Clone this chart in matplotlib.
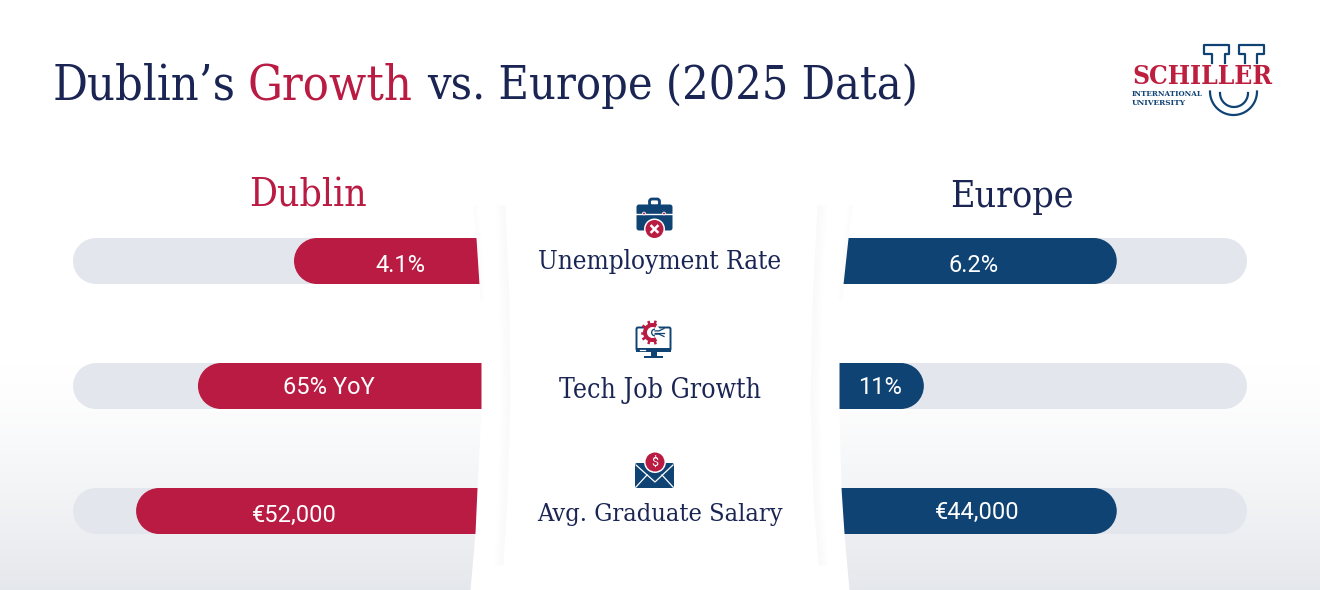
import matplotlib
matplotlib.use("Agg")
import matplotlib.pyplot as plt
import numpy as np
from matplotlib.patches import Circle, FancyBboxPatch, Rectangle, Wedge

metrics = ["Unemployment Rate", "Tech Job Growth", "Avg. Graduate Salary"]
dublin_labels = ["4.1%", "65% YoY", "€52,000"]
europe_labels = ["6.2%", "11%", "€44,000"]
# share of the grey track that is filled
dublin_fill = [0.457, 0.693, 0.845]
europe_fill = [0.68, 0.206, 0.68]

RED = "#b91b42"
BLUE = "#0f4373"
NAVY = "#1a2554"
TRACK = "#e3e7ed"
SLAB = "DejaVu Serif"

# layout, in pixels of the 1320x590 picture
bar_top = [238, 363, 488]
bar_h = 46
track_l, track_r = 73, 1247
track_w = 407
dublin_text_x = [400, 329, 294]
dublin_text_y = [265, 388, 515]
europe_text_x = [974, 880, 977]
europe_text_y = [265, 388, 512]
metric_y = [261, 390, 514]
metric_w = [244, 201, 246]

fig = plt.figure(figsize=(13.2, 5.9), dpi=100)
ax = fig.add_axes([0, 0, 1, 1])
ax.axis("off")

# background fades to a cool grey towards the bottom
ys = np.linspace(0, 1, 590)
fade = np.clip((ys - 0.62) / 0.38, 0, 1) ** 1.3
low = np.array([0.898, 0.908, 0.925])
bg = (1 - fade[:, None]) + fade[:, None] * low
ax.imshow(bg[:, None, :], extent=(0, 1320, 590, 0), aspect="auto", zorder=0)
ax.set_xlim(0, 1320)
ax.set_ylim(590, 0)


def fit_text(x, y, s, width, size=20, ha="left", **kw):
    # scale the font until the string is as wide as in the reference
    t = ax.text(x, y, s, fontsize=size, ha=ha, va="center", stretch="condensed", **kw)
    r = fig.canvas.get_renderer()
    t.set_fontsize(size * width / t.get_window_extent(r).width)
    return t


def pill(x0, x1, top, color, z):
    ax.add_patch(Rectangle((x0 + 23, top), x1 - x0 - 46, bar_h, fc=color, ec="none", zorder=z))
    ax.add_patch(Circle((x0 + 23, top + 23), 23, fc=color, ec="none", zorder=z))
    ax.add_patch(Circle((x1 - 23, top + 23), 23, fc=color, ec="none", zorder=z))


for i in range(3):
    pill(track_l, 560, bar_top[i], TRACK, 1)
    pill(760, track_r, bar_top[i], TRACK, 1)
    pill(480 - track_w * dublin_fill[i], 560, bar_top[i], RED, 2)
    pill(760, 840 + track_w * europe_fill[i], bar_top[i], BLUE, 2)
    ax.text(dublin_text_x[i], dublin_text_y[i], dublin_labels[i], color="white", fontsize=17, family="Roboto",
            ha="center", va="center", zorder=6)
    ax.text(europe_text_x[i], europe_text_y[i], europe_labels[i], color="white", fontsize=17, family="Roboto",
            ha="center", va="center", zorder=6)

# curved white centre panel
py = np.linspace(200, 590, 80)
left_edge = np.interp(py, [200, 238, 284, 363, 409, 488, 533, 590], [472, 476, 479, 481, 481, 477, 475, 470])
right_edge = np.interp(py, [200, 238, 284, 363, 409, 488, 533, 590], [853, 848, 843, 839, 839, 841, 844, 849])
ax.fill_betweenx(py, left_edge, right_edge, color="white", lw=0, zorder=3)

# soft shadows of the inner sheet and the panel top
inner_y = np.linspace(205, 565, 60)
inner_l = np.interp(inner_y, [205, 300, 400, 500, 565], [505, 509, 510, 507, 503])
inner_r = np.interp(inner_y, [205, 300, 400, 500, 565], [817, 812, 810, 813, 818])
for k in range(10):
    a = 0.045 * (1 - k / 10)
    ax.fill_betweenx(inner_y, inner_l - k - 1, inner_l - k, color="#8a8f99", alpha=a, lw=0, zorder=4)
    ax.fill_betweenx(inner_y, inner_r + k, inner_r + k + 1, color="#8a8f99", alpha=a, lw=0, zorder=4)
top_y = np.linspace(205, 300, 20)
for k in range(5):
    a = 0.025 * (1 - k / 5)
    ax.fill_betweenx(top_y, np.interp(top_y, py, left_edge) + k, np.interp(top_y, py, left_edge) + k + 1,
                     color="#8a8f99", alpha=a, lw=0, zorder=4)
    ax.fill_betweenx(top_y, np.interp(top_y, py, right_edge) - k - 1, np.interp(top_y, py, right_edge) - k,
                     color="#8a8f99", alpha=a, lw=0, zorder=4)

# title, three colours side by side
fit_text(53, 86, "Dublin’s", 183, color=NAVY, family=SLAB)
fit_text(248, 86, "Growth", 165, color=RED, family=SLAB)
fit_text(427, 86, "vs. Europe (2025 Data)", 491, color=NAVY, family=SLAB)

fit_text(308, 196, "Dublin", 118, ha="center", color=RED, family=SLAB)
fit_text(1012, 197, "Europe", 124, ha="center", color=NAVY, family=SLAB)
for i in range(3):
    fit_text(660, metric_y[i], metrics[i], metric_w[i], ha="center", color=NAVY, family=SLAB, zorder=6)

Z = 7
# briefcase
ax.add_patch(FancyBboxPatch((649.5, 199), 10, 7, boxstyle="round,pad=0,rounding_size=2.5", fc="none", ec=BLUE,
                            lw=2, zorder=Z))
ax.add_patch(FancyBboxPatch((636.5, 204.5), 36, 26, boxstyle="round,pad=0,rounding_size=2.5", fc=BLUE, ec="none",
                            zorder=Z))
ax.plot([636, 673], [214, 214], color="white", lw=1, zorder=Z + 1)
for dx in (644, 664):
    ax.add_patch(Circle((dx, 213.5), 1.4, fc=RED, ec="white", lw=0.6, zorder=Z + 2))
ax.add_patch(Circle((654.5, 229), 10.5, fc="white", ec="none", zorder=Z + 2))
ax.add_patch(Circle((654.5, 229), 9, fc=RED, ec="none", zorder=Z + 3))
ax.plot([651.5, 657.5], [226, 232], color="white", lw=1.8, zorder=Z + 4)
ax.plot([651.5, 657.5], [232, 226], color="white", lw=1.8, zorder=Z + 4)

# monitor with gear
ax.add_patch(FancyBboxPatch((636.5, 327.5), 34, 23, boxstyle="round,pad=0,rounding_size=1.5", fc="white", ec=BLUE,
                            lw=1.4, zorder=Z))
ax.add_patch(Rectangle((636, 348), 35, 4, fc=BLUE, ec="none", zorder=Z + 1))
ax.add_patch(Rectangle((650.5, 352), 6.5, 4, fc=BLUE, ec="none", zorder=Z + 1))
ax.add_patch(Rectangle((644, 356), 19, 2.2, fc=BLUE, ec="none", zorder=Z + 1))
ax.add_patch(Circle((652.5, 332.5), 8, fc="white", ec="none", zorder=Z + 2))
ax.add_patch(Wedge((652.5, 332.5), 9.5, 60, 300, width=4, fc=RED, ec="none", zorder=Z + 3))
for ang in np.radians([75, 110, 145, 180, 215, 250, 285]):
    ax.plot([652.5 + 8 * np.cos(ang), 652.5 + 11 * np.cos(ang)], [332.5 + 8 * np.sin(ang), 332.5 + 11 * np.sin(ang)],
            color=RED, lw=1.8, zorder=Z + 3)
ax.add_patch(Wedge((655, 332.5), 4, 90, 270, width=1.3, fc=BLUE, ec="none", zorder=Z + 3))
for dy in (-4, 0, 4):
    ax.plot([655, 659, 664], [332.5 + dy * 0.4, 332.5 + dy * 0.4, 332.5 + dy], color=BLUE, lw=0.9, zorder=Z + 3)
ax.plot([640, 645], [350, 350], color="white", lw=0.9, zorder=Z + 3)

# envelope with coin
ax.add_patch(FancyBboxPatch((635, 463), 39, 25, boxstyle="round,pad=0,rounding_size=2", fc=BLUE, ec="none", zorder=Z))
ax.plot([636, 655, 673], [465, 482, 465], color="white", lw=0.9, zorder=Z + 1)
ax.plot([636, 647], [487, 475], color="white", lw=0.9, zorder=Z + 1)
ax.plot([673, 662], [487, 475], color="white", lw=0.9, zorder=Z + 1)
ax.add_patch(Circle((655, 462), 11, fc="white", ec="none", zorder=Z + 2))
ax.add_patch(Circle((655, 462), 9.5, fc=RED, ec="none", zorder=Z + 3))
ax.text(655, 462, "$", color="white", fontsize=9, family="Roboto", ha="center", va="center", zorder=Z + 4)

# logo: outlined U behind the wordmark
th = np.linspace(0, np.pi, 40)
ax.plot(1233.5 + 23.5 * np.cos(th), 91.5 + 23.5 * np.sin(th), color=BLUE, lw=1.6, zorder=5)
ax.plot(1234 + 14 * np.cos(th), 93 + 14 * np.sin(th), color=BLUE, lw=1.6, zorder=5)
ax.plot([1212, 1212, 1203.5, 1203.5, 1229, 1229, 1225, 1225], [63, 54, 54, 45, 45, 54, 54, 63], color=BLUE, lw=1.6)
ax.plot([1245, 1245, 1238.5, 1238.5, 1264, 1264, 1257, 1257], [63, 54, 54, 45, 45, 54, 54, 63], color=BLUE, lw=1.6)
fit_text(1132, 76, "SCHILLER", 140, color="#bd1f3f", family=SLAB, weight="bold", zorder=6)
fit_text(1132, 94.5, "INTERNATIONAL", 71, color=BLUE, family=SLAB, weight="bold")
fit_text(1132, 103, "UNIVERSITY", 54, color=BLUE, family=SLAB, weight="bold")

fig.savefig("out.png", dpi=100)
